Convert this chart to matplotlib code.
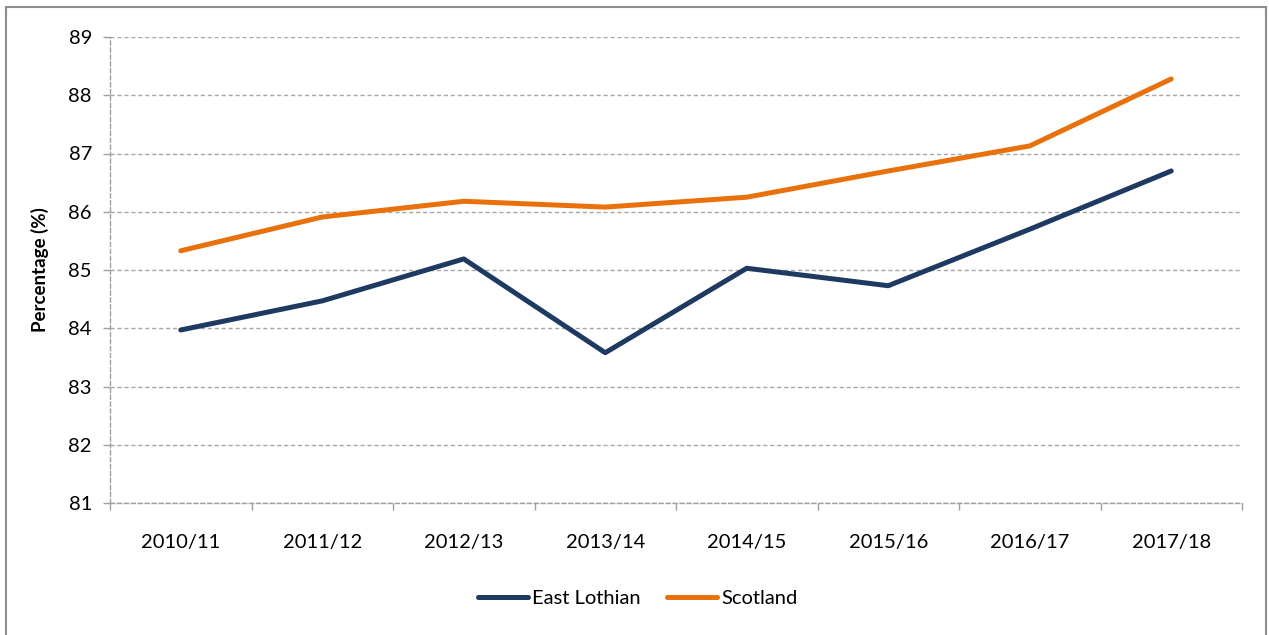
import numpy as np
import matplotlib.pyplot as plt
from matplotlib.patches import Rectangle

years = ['2010/11', '2011/12', '2012/13', '2013/14', '2014/15', '2015/16', '2016/17', '2017/18']
east_lothian = [83.97, 84.47, 85.19, 83.58, 85.03, 84.73, 85.70, 86.70]
scotland = [85.33, 85.91, 86.18, 86.08, 86.25, 86.70, 87.13, 88.28]

plt.rcParams['font.family'] = ['Lato', 'DejaVu Sans']

W, H = 1269, 635
fig = plt.figure(figsize=(W / 100, H / 100), dpi=100)
ax = fig.add_axes([110 / W, 1 - 503 / H, (1242 - 110) / W, (503 - 37) / H])

# outer frame of the chart
fig.patches.append(Rectangle((6 / W, -0.05), (1266 - 6) / W, 1.05 - 7 / H,
                             transform=fig.transFigure, fill=False,
                             edgecolor='#8C8C8C', lw=1.5))

x = np.arange(len(years))
ax.plot(x, east_lothian, color='#1F3A60', lw=3.6, solid_capstyle='round',
        solid_joinstyle='round', label='East Lothian', zorder=3)
ax.plot(x, scotland, color='#E8710C', lw=3.6, solid_capstyle='round',
        solid_joinstyle='round', label='Scotland', zorder=3)

ax.set_xlim(-0.5, len(years) - 0.5)
ax.set_ylim(81, 89)
ax.set_yticks(range(81, 90))
ax.set_xticks(x)
ax.set_xticklabels(years)
ax.set_xticks(np.arange(-0.5, len(years)), minor=True)
ax.tick_params(axis='x', which='major', length=0, pad=22, labelsize=14.5)
ax.tick_params(axis='x', which='minor', length=5, color='#A0A0A0', width=1)
ax.tick_params(axis='y', length=5, color='#A0A0A0', width=1, labelsize=14.5, pad=8)

ax.yaxis.grid(True, ls=(0, (3, 2)), color='#A6A6A6', lw=1)
for side in ['top', 'right']:
    ax.spines[side].set_visible(False)
for side in ['left', 'bottom']:
    ax.spines[side].set_color('#A0A0A0')
    ax.spines[side].set_linestyle((0, (3, 2)))
    ax.spines[side].set_linewidth(1)

ax.set_ylabel('Percentage (%)', fontsize=13.5, fontweight='bold', labelpad=14)

ax.legend(loc='center', bbox_to_anchor=(0.466, -0.205), ncol=2, frameon=False,
          fontsize=14.5, handlelength=2.5, handletextpad=0.2, columnspacing=1.3)

fig.savefig('out.png', dpi=100)
